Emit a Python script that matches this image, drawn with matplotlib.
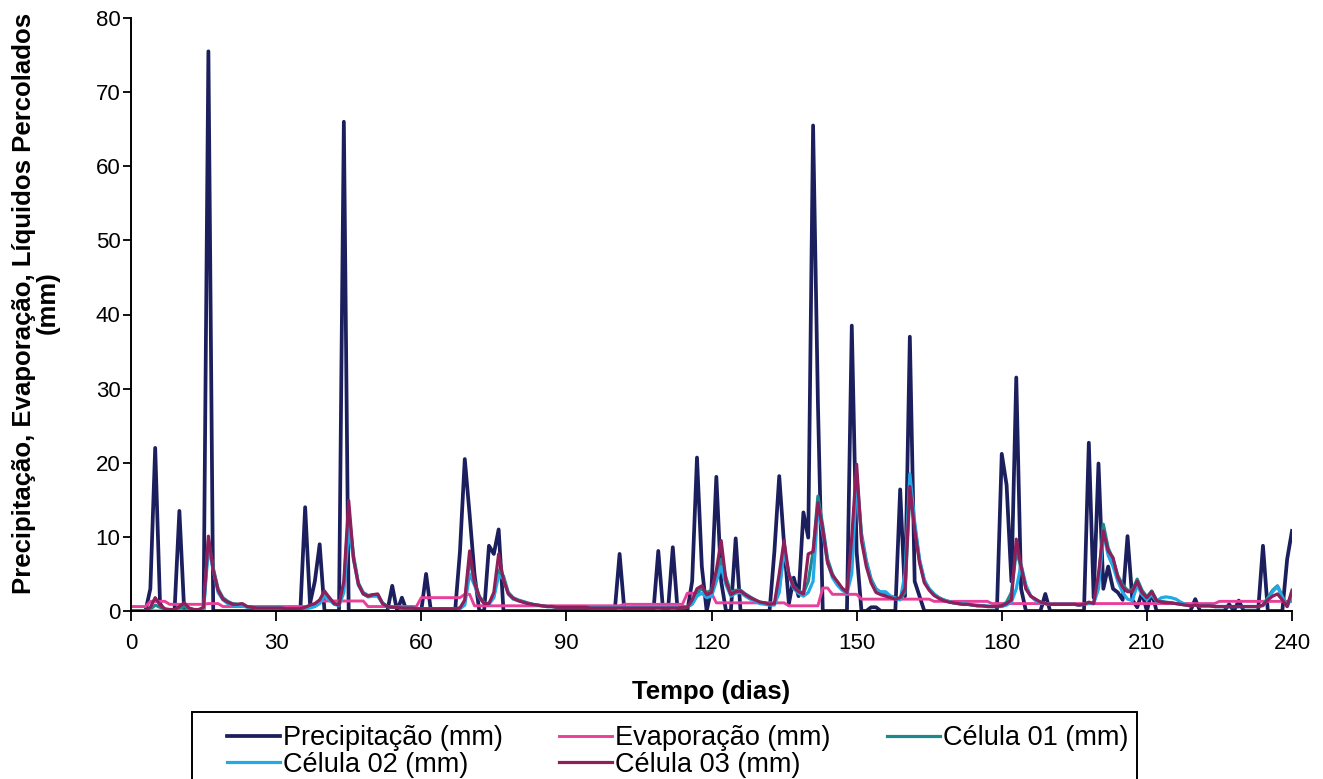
import matplotlib
matplotlib.use("Agg")
import matplotlib.pyplot as plt
from matplotlib.patches import Rectangle

days = list(range(0, 241))

precipitacao = [
    0, 0, 0, 0, 3, 22, 1, 0, 0, 0,
    13.5, 0, 0, 0, 0, 0, 75.5, 0, 0, 0,
    0, 0, 0, 0, 0, 0, 0, 0, 0, 0,
    0, 0, 0, 0, 0, 0, 14, 1, 4, 9,
    0, 0, 0, 0, 66, 0, 0, 0, 0, 0,
    0, 0, 0, 0, 3.4, 0, 1.8, 0, 0.5, 0,
    0, 5, 0, 0, 0, 0, 0, 0, 8, 20.5,
    13, 5, 0, 0, 8.8, 7.7, 11, 0, 0, 0,
    0, 0, 0, 0, 0, 0, 0, 0, 0, 0,
    0, 0, 0, 0, 0, 0, 0, 0, 0, 0,
    0, 7.7, 0, 0, 0, 0, 0, 0, 0, 8.1,
    0, 0, 8.6, 0, 0, 0, 4, 20.7, 6, 0,
    3, 18.1, 4, 0, 0, 9.8, 0, 0, 0, 0,
    0, 0, 0, 8, 18.2, 9, 1, 4.5, 2, 13.3,
    9.9, 65.5, 28, 0, 0, 0, 0, 0, 0, 38.5,
    8, 0, 0, 0.5, 0.5, 0, 0, 0, 0, 16.4,
    2, 37, 4, 2, 0, 0, 0, 0, 0, 0,
    0, 0, 0, 0, 0, 0, 0, 0, 0, 0,
    21.2, 17, 4, 31.5, 3, 0, 0, 0, 0, 2.3,
    0, 0, 0, 0, 0, 0, 0, 0, 22.7, 1.8,
    19.9, 3, 6, 3, 2.5, 1.5, 10.1, 1.5, 0.5, 2.5,
    0, 2.6, 0, 0, 0, 0, 0, 0, 0, 0,
    1.6, 0, 0, 0, 0, 0, 0, 0.9, 0, 1.4,
    0, 0, 0, 0, 8.8, 0, 0, 0, 0, 7,
    10.8,
]

evaporacao = [
    0.6, 0.6, 0.6, 0.6, 1.3, 1.3, 1.3, 1.3, 0.9, 0.9,
    0.9, 0.9, 0.9, 0.9, 0.9, 0.9, 1.0, 1.0, 1.0, 0.6,
    0.6, 0.6, 0.6, 0.6, 0.6, 0.6, 0.6, 0.6, 0.6, 0.6,
    0.6, 0.6, 0.6, 0.6, 0.6, 0.6, 0.6, 0.6, 0.6, 1.35,
    1.35, 1.35, 1.35, 1.35, 1.35, 1.35, 1.35, 1.35, 1.35, 0.6,
    0.6, 0.6, 0.6, 0.6, 0.6, 0.6, 0.6, 0.6, 0.6, 0.6,
    1.8, 1.8, 1.8, 1.8, 1.8, 1.8, 1.8, 1.8, 1.8, 2.25,
    2.25, 0.7, 0.7, 0.7, 0.7, 0.7, 0.7, 0.7, 0.7, 0.7,
    0.7, 0.7, 0.7, 0.7, 0.7, 0.7, 0.7, 0.7, 0.7, 0.7,
    0.7, 0.7, 0.7, 0.7, 0.7, 0.7, 0.7, 0.7, 0.7, 0.7,
    0.7, 0.7, 0.9, 0.9, 0.9, 0.9, 0.9, 0.9, 0.9, 0.9,
    0.9, 0.9, 0.9, 0.9, 0.9, 2.4, 2.4, 2.4, 2.4, 2.4,
    2.4, 1.1, 1.1, 1.1, 1.1, 1.1, 1.1, 1.1, 1.1, 1.1,
    1.1, 1.1, 1.1, 1.1, 1.1, 1.1, 0.7, 0.7, 0.7, 0.7,
    0.7, 0.7, 0.7, 3.1, 3.1, 2.25, 2.25, 2.25, 2.25, 2.25,
    2.25, 1.6, 1.6, 1.6, 1.6, 1.6, 1.6, 1.6, 1.6, 1.6,
    1.6, 1.6, 1.6, 1.6, 1.6, 1.6, 1.3, 1.3, 1.3, 1.3,
    1.3, 1.3, 1.3, 1.3, 1.3, 1.3, 1.3, 1.3, 1.0, 1.0,
    1.0, 1.0, 1.0, 1.0, 1.0, 1.0, 1.0, 1.0, 1.0, 1.0,
    1.0, 1.0, 1.0, 1.0, 1.0, 1.0, 1.0, 1.0, 1.0, 1.0,
    1.0, 1.0, 1.0, 1.0, 1.0, 1.0, 1.0, 1.0, 1.0, 1.0,
    1.0, 1.0, 1.0, 1.0, 1.0, 1.0, 1.0, 1.0, 1.0, 1.0,
    1.0, 1.0, 1.0, 1.0, 1.0, 1.3, 1.3, 1.3, 1.3, 1.3,
    1.3, 1.3, 1.3, 1.3, 1.3, 1.3, 1.3, 1.3, 1.3, 1.3,
    1.3,
]

celula01 = [
    0, 0, 0, 0, 0.2, 0.8, 0.5, 0.2, 0.1, 0.1,
    0.3, 0.6, 0.3, 0.2, 0.1, 0.3, 9.5, 5.8, 3.0, 1.8,
    1.3, 1.0, 0.9, 0.9, 0.6, 0.5, 0.4, 0.4, 0.4, 0.4,
    0.4, 0.4, 0.3, 0.3, 0.3, 0.3, 0.4, 0.6, 0.8, 1.2,
    2.4, 1.8, 1.0, 0.8, 3.5, 13.5, 7.5, 3.8, 2.5, 2.1,
    2.2, 2.2, 1.1, 0.6, 0.5, 0.5, 0.4, 0.4, 0.4, 0.3,
    0.3, 0.3, 0.3, 0.3, 0.3, 0.3, 0.3, 0.3, 0.4, 1.2,
    7.0, 4.0, 2.0, 1.1, 1.0, 2.0, 5.5, 4.7, 2.5, 1.8,
    1.5, 1.3, 1.1, 0.9, 0.8, 0.7, 0.6, 0.6, 0.5, 0.5,
    0.5, 0.5, 0.5, 0.5, 0.5, 0.4, 0.4, 0.4, 0.4, 0.4,
    0.4, 0.4, 0.4, 0.4, 0.4, 0.4, 0.4, 0.4, 0.4, 0.4,
    0.4, 0.4, 0.4, 0.4, 0.5, 0.5, 1.0, 2.5, 3.0, 2.5,
    2.8, 5.0, 7.0, 4.5, 2.5, 2.8, 2.8, 2.3, 1.9, 1.5,
    1.2, 1.1, 0.9, 0.9, 3.0, 8.5, 5.0, 3.3, 2.7, 2.4,
    4.0, 8.0, 15.5, 11.5, 7.0, 5.0, 3.8, 3.0, 2.6, 8.0,
    18.5, 10.5, 6.8, 4.3, 3.0, 2.5, 2.3, 2.0, 1.8, 1.6,
    2.5, 16.0, 11.5, 6.8, 4.0, 3.0, 2.3, 1.8, 1.5, 1.3,
    1.1, 1.0, 0.9, 0.9, 0.8, 0.7, 0.7, 0.6, 0.6, 0.6,
    0.7, 1.2, 2.5, 8.0, 6.0, 3.0, 2.0, 1.5, 1.2, 1.0,
    0.9, 0.9, 0.9, 0.9, 0.9, 0.9, 0.8, 0.9, 1.1, 1.0,
    4.0, 11.7, 8.5, 7.0, 4.8, 3.5, 2.8, 2.8, 4.3, 2.8,
    1.9, 2.7, 1.5, 1.3, 1.2, 1.1, 1.0, 0.9, 0.8, 0.7,
    0.8, 0.7, 0.7, 0.7, 0.6, 0.6, 0.6, 0.6, 0.6, 0.6,
    0.6, 0.6, 0.6, 0.6, 0.8, 1.8, 2.8, 3.4, 2.0, 0.7,
    2.5,
]

celula02 = [
    0, 0, 0, 0, 0, 0, 0, 0, 0, 0,
    0, 0, 0, 0, 0, 0, 8.6, 5.5, 2.5, 1.5,
    1.0, 0.8, 0.7, 0.7, 0.5, 0.5, 0.4, 0.4, 0.4, 0.4,
    0.4, 0.4, 0.3, 0.3, 0.3, 0.3, 0.3, 0.4, 0.6, 1.0,
    2.0, 1.5, 0.9, 0.7, 2.5, 11.1, 7.0, 3.5, 2.3, 1.9,
    2.0, 2.0, 1.0, 0.6, 0.5, 0.5, 0.4, 0.4, 0.4, 0.3,
    0.3, 0.3, 0.3, 0.3, 0.3, 0.3, 0.3, 0.3, 0.3, 0.8,
    5.0, 3.5, 1.8, 1.0, 0.9, 1.8, 4.8, 4.3, 2.3, 1.6,
    1.4, 1.2, 1.0, 0.9, 0.8, 0.7, 0.6, 0.6, 0.5, 0.5,
    0.5, 0.5, 0.5, 0.5, 0.5, 0.5, 0.5, 0.5, 0.5, 0.5,
    0.5, 0.5, 0.5, 0.5, 0.6, 0.6, 0.6, 0.6, 0.6, 0.6,
    0.6, 0.6, 0.6, 0.6, 0.6, 0.6, 0.9, 2.0, 2.4, 1.8,
    2.0, 4.0, 6.0, 3.5, 2.0, 2.4, 2.5, 2.0, 1.6, 1.3,
    1.0, 0.9, 0.8, 0.8, 2.5, 8.1, 5.0, 3.0, 2.4, 2.0,
    2.5, 4.0, 13.9, 10.5, 6.5, 4.5, 3.5, 2.8, 2.4, 5.0,
    17.7, 10.0, 6.5, 4.0, 2.8, 2.6, 2.6, 2.0, 1.7, 1.5,
    5.0, 18.5, 12.0, 7.0, 4.2, 3.0, 2.3, 1.8, 1.5, 1.3,
    1.1, 1.0, 1.0, 0.9, 0.8, 0.8, 0.7, 0.7, 0.6, 0.6,
    0.6, 0.8, 1.2, 3.0, 6.3, 3.5, 2.0, 1.4, 1.1, 1.0,
    0.9, 0.9, 0.9, 0.9, 0.9, 0.9, 0.8, 0.9, 1.0, 1.0,
    3.0, 10.5, 7.5, 6.0, 4.0, 2.5, 1.6, 1.4, 3.5, 2.2,
    1.5, 2.2, 1.3, 1.8, 1.9, 1.8, 1.6, 1.2, 0.9, 0.8,
    0.8, 0.7, 0.7, 0.7, 0.6, 0.6, 0.6, 0.6, 0.6, 0.6,
    0.6, 0.6, 0.6, 0.6, 0.7, 1.5, 2.6, 3.3, 1.8, 0.6,
    2.0,
]

celula03 = [
    0, 0, 0, 0, 0.5, 1.8, 0.8, 0.3, 0.2, 0.2,
    0.6, 1.1, 0.4, 0.2, 0.2, 0.5, 10.1, 5.5, 2.8, 1.6,
    1.2, 0.9, 0.9, 1.0, 0.6, 0.5, 0.4, 0.4, 0.4, 0.4,
    0.4, 0.4, 0.3, 0.3, 0.3, 0.3, 0.5, 0.8, 1.0, 1.5,
    2.7, 1.8, 1.0, 0.8, 4.0, 14.9, 7.0, 3.6, 2.3, 2.0,
    2.2, 2.3, 1.0, 0.6, 0.5, 0.5, 0.4, 0.4, 0.4, 0.3,
    0.3, 0.3, 0.3, 0.3, 0.3, 0.3, 0.3, 0.3, 0.4, 1.5,
    8.1, 3.8, 1.9, 1.0, 1.0, 2.5, 7.7, 4.2, 2.3, 1.7,
    1.4, 1.2, 1.0, 0.9, 0.8, 0.7, 0.6, 0.6, 0.5, 0.5,
    0.5, 0.5, 0.5, 0.5, 0.5, 0.4, 0.4, 0.4, 0.4, 0.4,
    0.4, 0.4, 0.4, 0.4, 0.4, 0.4, 0.4, 0.4, 0.4, 0.4,
    0.4, 0.4, 0.4, 0.4, 0.5, 0.5, 1.5, 3.0, 3.4, 2.2,
    2.5, 5.5, 9.5, 4.0, 2.2, 2.6, 2.7, 2.2, 1.8, 1.5,
    1.2, 1.1, 0.9, 1.0, 5.0, 9.5, 4.9, 3.2, 2.6, 2.3,
    7.7, 8.0, 14.6, 11.0, 6.5, 4.8, 4.0, 3.1, 2.5, 10.0,
    19.8, 9.5, 6.0, 3.8, 2.5, 2.2, 2.0, 1.8, 1.6, 1.8,
    3.0, 16.8, 11.0, 6.5, 3.8, 2.8, 2.1, 1.7, 1.4, 1.2,
    1.1, 1.0, 0.9, 0.9, 0.8, 0.7, 0.7, 0.6, 0.6, 0.6,
    0.7, 1.0, 1.5, 9.7, 6.0, 3.0, 2.0, 1.6, 1.2, 1.0,
    0.9, 0.9, 0.9, 0.9, 0.9, 0.9, 0.8, 0.9, 1.2, 1.0,
    5.0, 10.8, 8.1, 7.2, 4.5, 3.2, 2.6, 2.6, 4.0, 2.5,
    1.8, 2.6, 1.4, 1.2, 1.1, 1.1, 1.0, 0.9, 0.8, 0.7,
    0.8, 0.7, 0.7, 0.7, 0.6, 0.6, 0.6, 0.6, 0.6, 0.6,
    0.6, 0.6, 0.6, 0.6, 0.8, 1.5, 2.0, 2.3, 1.5, 0.6,
    2.8,
]

for s in (precipitacao, evaporacao, celula01, celula02, celula03):
    assert len(s) == len(days), len(s)

labels = ["Precipitação (mm)", "Evaporação (mm)", "Célula 01 (mm)",
          "Célula 02 (mm)", "Célula 03 (mm)"]
x_ticks = [0, 30, 60, 90, 120, 150, 180, 210, 240]
y_ticks = [0, 10, 20, 30, 40, 50, 60, 70, 80]

plt.rcParams['font.family'] = ['Liberation Sans', 'DejaVu Sans']

W, H = 1323, 779
fig = plt.figure(figsize=(W / 100, H / 100), dpi=100)
ax = fig.add_axes([131 / W, 1 - 611 / H, (1292 - 131) / W, (611 - 18) / H])

series = [precipitacao, evaporacao, celula01, celula02, celula03]
colors = ["#1c1f5e", "#e8409a", "#1b8a8f", "#22a9e8", "#8e1f5a"]
widths = [2.7, 2.1, 2.3, 2.3, 2.3]
handles = []
for s, c, w, lab in zip(series, colors, widths, labels):
    h, = ax.plot(days, s, color=c, lw=w, label=lab, solid_joinstyle='round')
    handles.append(h)

ax.set_xlim(0, 240)
ax.set_ylim(0, 80)
ax.set_xticks(x_ticks)
ax.set_yticks(y_ticks)
ax.tick_params(axis='x', labelsize=16, direction='out', length=7, width=1.3,
               pad=9, colors='black')
ax.tick_params(axis='y', labelsize=16, direction='out', length=6, width=1.3,
               pad=1.5, colors='black')
ax.spines['top'].set_visible(False)
ax.spines['right'].set_visible(False)
ax.spines['left'].set_linewidth(1.4)
ax.spines['bottom'].set_linewidth(1.4)

fig.text(711 / W, 1 - 692 / H, "Tempo (dias)", fontsize=18.5, fontweight='bold',
         ha='center', va='center')
fig.text(36 / W, 1 - 303 / H, "Precipitação, Evaporação, Líquidos Percolados\n(mm)",
         fontsize=18.5, fontweight='bold', rotation=90, ha='center', va='center',
         multialignment='center', linespacing=1.0)

order = [0, 3, 1, 4, 2]
leg = fig.legend([handles[i] for i in order], [labels[i] for i in order],
                 ncol=3, loc='upper left', bbox_to_anchor=(227 / W, 1 - 725 / H),
                 fontsize=19.5, frameon=False,
                 handlelength=1.95, handletextpad=0.1, labelspacing=0.02,
                 columnspacing=2.1, borderpad=0.0, borderaxespad=0.0)

fig.patches.append(Rectangle((192 / W, -0.05), (1137 - 192) / W, 0.05 + 1 - 712 / H,
                             transform=fig.transFigure, fill=False,
                             edgecolor='black', linewidth=1.4))

fig.savefig("out.png", dpi=100)
